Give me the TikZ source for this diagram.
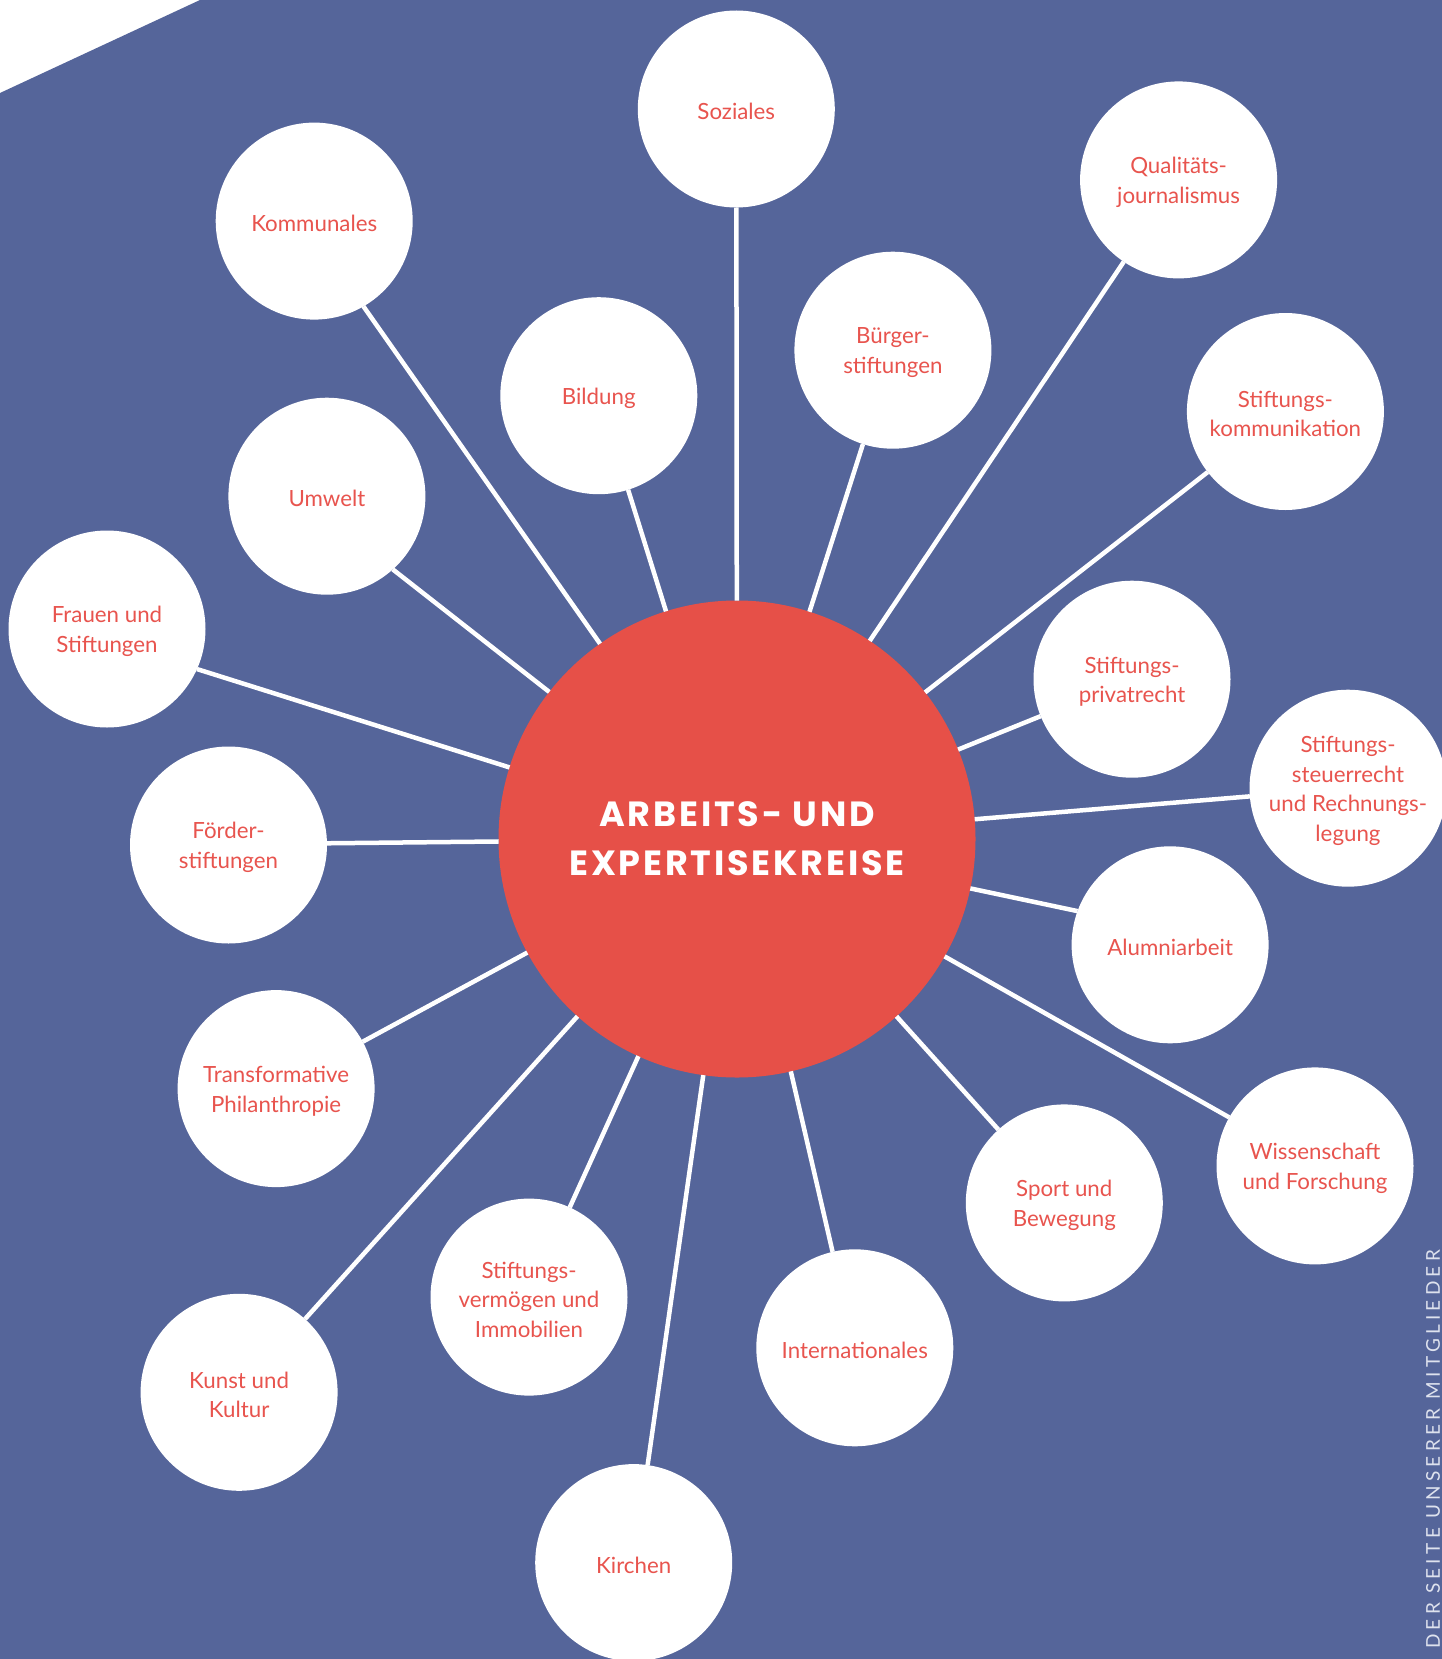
\documentclass[tikz,border=0pt]{standalone}
\usepackage{fontspec}
\setmainfont{Lato}
\newfontfamily\titlefont[LetterSpace=8]{Poppins}
\newfontfamily\sidefont[LetterSpace=22.5]{Lato}
\definecolor{bgblue}{RGB}{85,101,154}
\definecolor{hubred}{RGB}{230,80,72}
\definecolor{labred}{RGB}{232,84,78}
\definecolor{sidegray}{RGB}{222,226,238}
\tikzset{
  lbl/.style={align=center, text=labred, inner sep=0pt, yshift=-2.5pt,
    font=\fontsize{22.3}{29.5}\selectfont},
  topic/.style={circle, fill=white, minimum size=197pt, inner sep=0pt, outer sep=0pt,
    label={[lbl]center:{#1}}},
  hub/.style={circle, fill=hubred, minimum size=477pt, inner sep=0pt, outer sep=0pt,
    align=center, text=white, font=\titlefont\bfseries\fontsize{35}{49}\selectfont},
  link/.style={draw=white, line width=4.5pt}
}
\begin{document}
\begin{tikzpicture}[x=1pt,y=-1pt]
\useasboundingbox (0,0) rectangle (1442,1659);
\fill[white] (0,0) rectangle (1442,1659);
\fill[bgblue] (0,93) -- (200,0) -- (1442,0) -- (1442,1659) -- (0,1659) -- cycle;

\node[hub] (c) at (737,839) {ARBEITS- UND\\EXPERTISEKREISE};

\node[topic={Soziales}] (soz) at (736.3,109) {};
\node[topic={Kommunales}] (kom) at (314.2,221.1) {};
\node[topic={Qualitäts-\\journalismus}] (qua) at (1178.6,179.9) {};
\node[topic={Bürger-\\stiftungen}] (bue) at (892.9,350.2) {};
\node[topic={Bildung}] (bil) at (598.8,395.7) {};
\node[topic={Stiftungs-\\kommunikation}] (sko) at (1285.4,411.5) {};
\node[topic={Umwelt}] (umw) at (326.9,496.2) {};
\node[topic={Frauen und\\Stiftungen}] (fra) at (107,629) {};
\node[topic={Stiftungs-\\privatrecht}] (spr) at (1132,679.2) {};
\node[topic={Stiftungs-\\steuerrecht\\und Rechnungs-\\legung}] (sst) at (1348,788.2) {};
\node[topic={Förder-\\stiftungen}] (foe) at (228.5,845) {};
\node[topic={Alumniarbeit}] (alu) at (1170.1,944.8) {};
\node[topic={Transformative\\Philanthropie}] (tra) at (276.1,1088.6) {};
\node[topic={Wissenschaft\\und Forschung}] (wis) at (1315,1165.9) {};
\node[topic={Sport und\\Bewegung}] (spo) at (1064.3,1202.9) {};
\node[topic={Stiftungs-\\vermögen und\\Immobilien}] (sve) at (529,1297.1) {};
\node[topic={Internationales}] (int) at (854.8,1347.8) {};
\node[topic={Kunst und\\Kultur}] (kun) at (239.1,1392.3) {};
\node[topic={Kirchen}] (kir) at (633.7,1562.6) {};

\foreach \t in {soz,qua,bue,bil,sko,spr,sst,tra,wis,spo,sve,int,kun,kir}
  \draw[link] (c) -- (\t);
\draw[link] (c) -- (kom.-60);
\draw[link] (c) -- (umw.-48);
\draw[link] (c) -- (fra.-24);
\draw[link] (c) -- (foe.1);
\draw[link] (c) -- (alu.160);

\node[rotate=90, anchor=east, text=sidegray, inner sep=0pt,
  font=\sidefont\fontsize{19}{22}\selectfont] (side) at (1433,1250) {DER SEITE UNSERER MITGLIEDER};
\end{tikzpicture}
\end{document}
